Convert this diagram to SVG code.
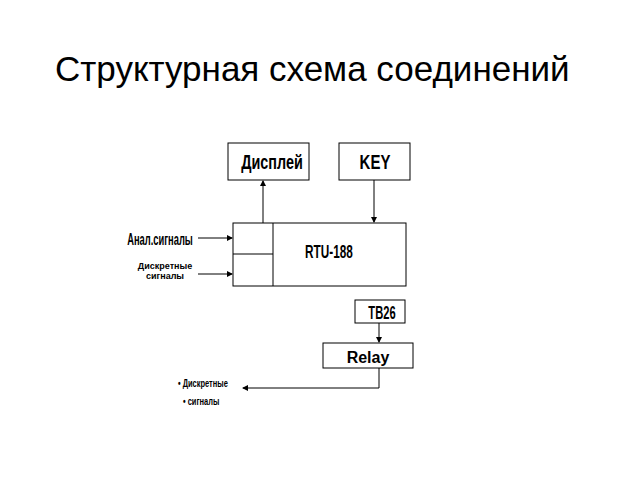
<svg xmlns="http://www.w3.org/2000/svg" width="638" height="479" viewBox="0 0 638 479">
<defs>
<style>
.b{fill:#fff;stroke:#000;stroke-width:1}
.l{stroke:#000;stroke-width:1;fill:none}
.t{font-family:"Liberation Sans",Arial,sans-serif;font-weight:bold;fill:#000}
</style>
<marker id="a" markerWidth="6" markerHeight="6" refX="5" refY="3" orient="auto" markerUnits="userSpaceOnUse"><path d="M0,0 L6,3 L0,6 z" fill="#000"/></marker>
</defs>
<rect width="638" height="479" fill="#fff"/>
<text x="55" y="81" font-family="Liberation Sans,Arial,sans-serif" font-size="35" fill="#000">Структурная схема соединений</text>
<g id="display"><rect class="b" x="228" y="143" width="81" height="37"/><text class="t" x="272" y="169" font-size="20" text-anchor="middle" transform="translate(272 0) scale(0.72 1) translate(-272 0)">Дисплей</text></g>
<g id="key"><rect class="b" x="339" y="143" width="71" height="37"/><text class="t" x="375" y="169" font-size="20" text-anchor="middle" transform="translate(375 0) scale(0.75 1) translate(-375 0)">KEY</text></g>
<g id="rtu"><rect class="b" x="233" y="223" width="173" height="63"/><line class="l" x1="273" y1="223" x2="273" y2="286"/><line class="l" x1="233" y1="254" x2="273" y2="254"/><text class="t" x="329" y="258" font-size="19" text-anchor="middle" transform="translate(329 0) scale(0.62 1) translate(-329 0)">RTU-188</text></g>
<g id="tb26"><rect class="b" x="355" y="300" width="50" height="23"/><text class="t" x="382" y="319" font-size="18" text-anchor="middle" transform="translate(382 0) scale(0.62 1) translate(-382 0)">TB26</text></g>
<g id="relay"><rect class="b" x="323" y="343" width="90" height="25"/><text class="t" x="368" y="363" font-size="16" text-anchor="middle">Relay</text></g>
<g id="labels">
<text class="t" x="160" y="245" font-size="17" text-anchor="middle" transform="translate(160 0) scale(0.55 1) translate(-160 0)">Анал.сигналы</text>
<text class="t" x="165" y="269" font-size="9" text-anchor="middle">Дискретные</text>
<text class="t" x="165" y="279" font-size="9" text-anchor="middle">сигналы</text>
<text class="t" x="178" y="387" font-size="11" transform="translate(178 0) scale(0.68 1) translate(-178 0)">• Дискретные</text>
<text class="t" x="183" y="405" font-size="11" transform="translate(183 0) scale(0.68 1) translate(-183 0)">•  сигналы</text>
</g>
<g id="connectors">
<line class="l" x1="263" y1="223" x2="263" y2="181" marker-end="url(#a)"/>
<line class="l" x1="374" y1="180" x2="374" y2="222" marker-end="url(#a)"/>
<line class="l" x1="198" y1="238" x2="232" y2="238" marker-end="url(#a)"/>
<line class="l" x1="198" y1="274" x2="232" y2="274" marker-end="url(#a)"/>
<line class="l" x1="379" y1="323" x2="379" y2="342" marker-end="url(#a)"/>
<polyline class="l" points="379,368 379,388 243,388" marker-end="url(#a)"/>
</g>
</svg>
